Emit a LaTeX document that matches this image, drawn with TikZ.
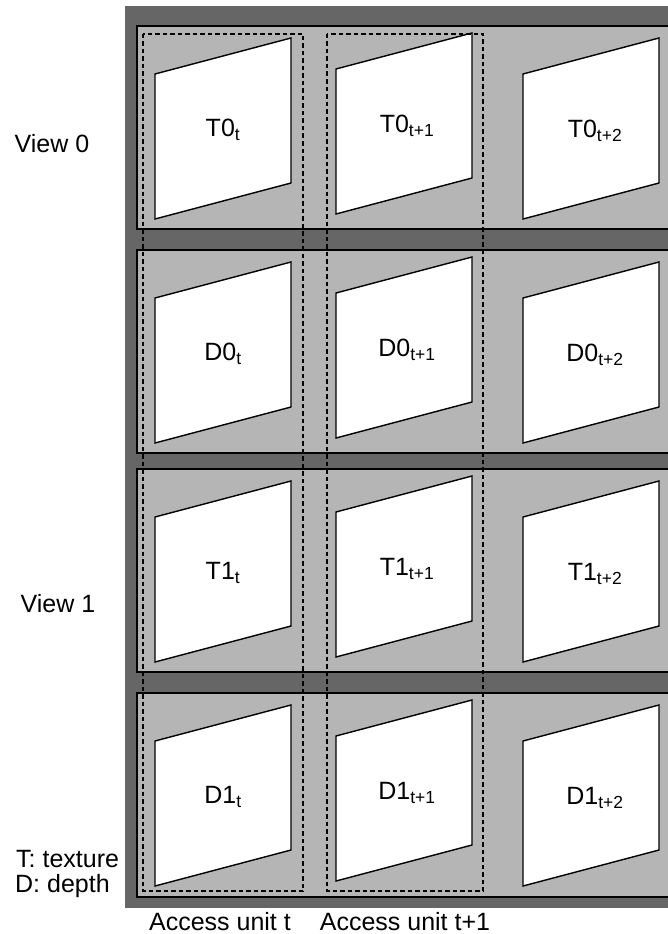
\documentclass[tikz,border=0pt]{standalone}
\usepackage{amsmath, amssymb}
\usepackage{fontspec}
\setmainfont{Liberation Sans}
\usepackage{tikz}

\definecolor{darkband}{gray}{0.40}
\definecolor{lightband}{gray}{0.71}

\begin{document}
\begin{tikzpicture}[x=1pt,y=-1pt,
	viewrow/.style={fill=lightband,draw=black,line width=1.4pt},
	picframe/.style={fill=white,draw=black,line width=1.4pt,line join=miter},
	unitbox/.style={draw=black,line width=1.8pt,dash pattern=on 4.5pt off 3pt},
	lbl/.style={font=\fontsize{25}{29}\selectfont,inner sep=0pt}]
	\useasboundingbox (0,0) rectangle (668,934);
	\clip (0,0) rectangle (668,934);
	\fill[darkband] (125,6) rectangle (700,908);
	\draw[viewrow] (137,26) rectangle (700,229);
	\draw[viewrow] (137,250) rectangle (700,453);
	\draw[viewrow] (137,469) rectangle (700,672);
	\draw[viewrow] (137,693) rectangle (700,897);
	\draw[picframe] (155,74)--(291,38)--(291,183)--(155,219)--cycle;
	\draw[picframe] (336,69)--(472,33)--(472,178)--(336,214)--cycle;
	\draw[picframe] (523,74)--(659,38)--(659,183)--(523,219)--cycle;
	\draw[picframe] (155,298)--(291,262)--(291,407)--(155,443)--cycle;
	\draw[picframe] (336,293)--(472,257)--(472,402)--(336,438)--cycle;
	\draw[picframe] (523,298)--(659,262)--(659,407)--(523,443)--cycle;
	\draw[picframe] (155,517)--(291,481)--(291,626)--(155,662)--cycle;
	\draw[picframe] (336,512)--(472,476)--(472,621)--(336,657)--cycle;
	\draw[picframe] (523,517)--(659,481)--(659,626)--(523,662)--cycle;
	\draw[picframe] (155,741)--(291,705)--(291,850)--(155,886)--cycle;
	\draw[picframe] (336,736)--(472,700)--(472,845)--(336,881)--cycle;
	\draw[picframe] (523,741)--(659,705)--(659,850)--(523,886)--cycle;
	\draw[unitbox] (143,34) rectangle (303,891);
	\draw[unitbox] (327,34) rectangle (483,891);
	\node[lbl] (tex0a) at (223,130) {T0\textsubscript{t}};
	\node[lbl] (tex0b) at (407,126) {T0\textsubscript{t+1}};
	\node[lbl] (tex0c) at (595,131) {T0\textsubscript{t+2}};
	\node[lbl] (dep0a) at (223,354) {D0\textsubscript{t}};
	\node[lbl] (dep0b) at (407,350) {D0\textsubscript{t+1}};
	\node[lbl] (dep0c) at (595,355) {D0\textsubscript{t+2}};
	\node[lbl] (tex1a) at (223,573) {T1\textsubscript{t}};
	\node[lbl] (tex1b) at (407,569) {T1\textsubscript{t+1}};
	\node[lbl] (tex1c) at (595,574) {T1\textsubscript{t+2}};
	\node[lbl] (dep1a) at (223,797) {D1\textsubscript{t}};
	\node[lbl] (dep1b) at (407,793) {D1\textsubscript{t+1}};
	\node[lbl] (dep1c) at (595,798) {D1\textsubscript{t+2}};
	\node[lbl,anchor=base] (view0) at (52,152) {View 0};
	\node[lbl,anchor=base] (view1) at (58,612) {View 1};
	\node[lbl,anchor=base west] (keyT) at (16,867) {T: texture};
	\node[lbl,anchor=base west] (keyD) at (15,892) {D: depth};
	\node[lbl,anchor=base] (unitA) at (220,930) {Access unit t};
	\node[lbl,anchor=base] (unitB) at (405,930) {Access unit t+1};
\end{tikzpicture}
\end{document}
